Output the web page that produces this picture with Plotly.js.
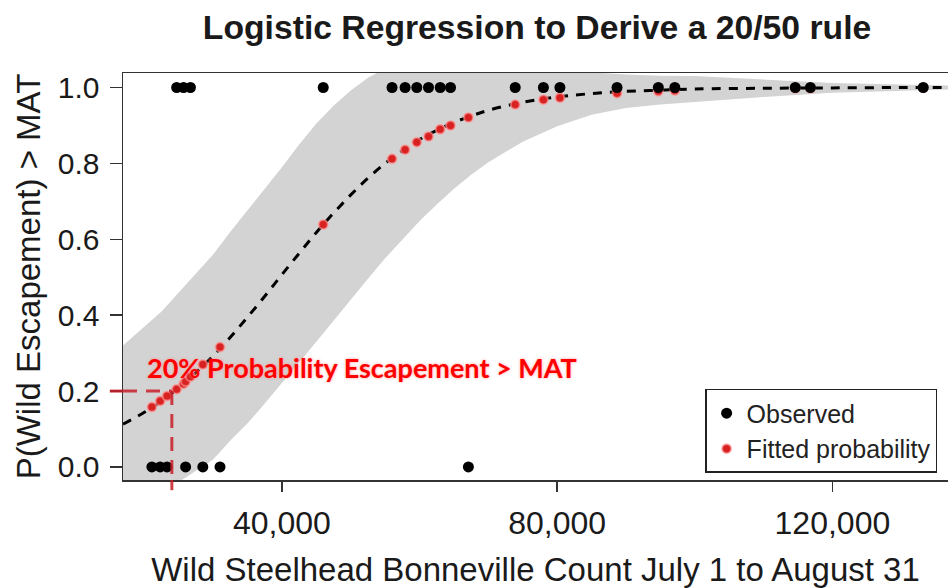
<!DOCTYPE html>
<html>
<head>
<meta charset="utf-8">
<script src="https://cdn.plot.ly/plotly-3.0.1.min.js"></script>
<style>html,body{margin:0;padding:0;background:#fff;}#chart{width:948px;height:588px;}</style>
</head>
<body>
<div id="chart"></div>
<script>
// Observed escapement outcome (0/1) against Bonneville count
const obsX = [21100, 22300, 23300, 24700, 25700, 26000, 26700, 28500, 31000, 46000, 56000, 57900, 59600, 61300, 63000, 64500, 67100, 73900, 78000, 80400, 88700, 94700, 97100, 114600, 116800, 133200];
const obsY = [0, 0, 0, 1, 1, 0, 1, 0, 0, 1, 1, 1, 1, 1, 1, 1, 0, 1, 1, 1, 1, 1, 1, 1, 1, 1];
// Fitted probability at each observed count
const fitP = [0.158, 0.174, 0.187, 0.205, 0.219, 0.225, 0.238, 0.270, 0.316, 0.639, 0.812, 0.836, 0.856, 0.871, 0.890, 0.900, 0.921, 0.955, 0.968, 0.973, 0.985, 0.990, 0.992, 0.998, 0.998, 0.9995];
// Fitted logistic curve and confidence band
const curveX = [16900, 20000, 22500, 25000, 27500, 30000, 32500, 35000, 37500, 40000, 42500, 45000, 47500, 50000, 52500, 55000, 57500, 60000, 62500, 65000, 67500, 70000, 75000, 80000, 85000, 90000, 95000, 100000, 110000, 120000, 130000, 136800];
const curveP = [0.113, 0.144, 0.174, 0.209, 0.249, 0.293, 0.342, 0.395, 0.450, 0.507, 0.563, 0.618, 0.669, 0.717, 0.761, 0.800, 0.833, 0.863, 0.887, 0.908, 0.925, 0.940, 0.961, 0.975, 0.984, 0.990, 0.993, 0.996, 0.998, 0.999, 1.000, 1.000];
const bandUpper = [0.32, 0.37, 0.41, 0.46, 0.51, 0.56, 0.62, 0.675, 0.733, 0.79, 0.85, 0.905, 0.952, 0.992, 1.026, 1.05, 1.068, 1.078, 1.082, 1.083, 1.08, 1.077, 1.065, 1.052, 1.040, 1.034, 1.031, 1.030, 1.021, 1.012, 1.008, 1.005];
const bandLower = [-0.10, -0.08, -0.06, -0.04, -0.01, 0.02, 0.07, 0.115, 0.167, 0.22, 0.276, 0.33, 0.386, 0.442, 0.496, 0.55, 0.598, 0.648, 0.692, 0.733, 0.77, 0.803, 0.857, 0.898, 0.928, 0.946, 0.955, 0.962, 0.975, 0.986, 0.992, 0.995];
// 20/50 rule reference
const ruleX = 24000;
const ruleP = 0.2;
const xTickVals = [40000, 80000, 120000];
const xTickText = ["40,000", "80,000", "120,000"];
const yTickVals = [0, 0.2, 0.4, 0.6, 0.8, 1.0];
const yTickText = ["0.0", "0.2", "0.4", "0.6", "0.8", "1.0"];
const seriesNames = ["Observed", "Fitted probability"];

const FONT = "'Liberation Sans', Arial, Helvetica, sans-serif";
const RED_DASH = {color: 'rgba(200,30,40,0.85)', width: 3, dash: '14px,9px'};

const traces = [
  {x: curveX, y: bandLower, type: 'scatter', mode: 'lines', line: {width: 0, color: 'rgba(0,0,0,0)'}, showlegend: false, hoverinfo: 'skip'},
  {x: curveX, y: bandUpper, type: 'scatter', mode: 'lines', line: {width: 0, color: 'rgba(0,0,0,0)'}, fill: 'tonexty', fillcolor: '#d3d3d3', showlegend: false, hoverinfo: 'skip'},
  {x: curveX, y: curveP, type: 'scatter', mode: 'lines', line: {color: '#000', width: 3, dash: '9px,8px', shape: 'spline'}, showlegend: false},
  {x: obsX, y: fitP, type: 'scatter', mode: 'markers', name: seriesNames[1], marker: {color: 'rgb(216,34,34)', size: 9, line: {color: 'rgba(255,150,150,0.6)', width: 2}}},
  {x: obsX, y: obsY, type: 'scatter', mode: 'markers', name: seriesNames[0], marker: {color: '#000', size: 11}}
];

const layout = {
  width: 948, height: 588,
  margin: {l: 123, r: 0, t: 73, b: 108, pad: 0},
  paper_bgcolor: '#fff', plot_bgcolor: '#fff',
  font: {family: FONT, color: '#1a1a1a', size: 32},
  title: {text: 'Logistic Regression to Derive a 20/50 rule', font: {family: FONT, size: 33.7, weight: 'bold', color: '#1a1a1a'}, x: 0.5665, xref: 'container', xanchor: 'center', y: 0.953, yref: 'container', yanchor: 'middle'},
  xaxis: {range: [16900, 136800], tickvals: xTickVals, ticktext: xTickText, ticks: 'outside', ticklen: 10, tickwidth: 1.5, tickcolor: '#333', showline: true, linecolor: '#333', linewidth: 1.5, mirror: true, showgrid: false, zeroline: false, tickfont: {size: 32}, ticklabelstandoff: 4,
    title: {text: 'Wild Steelhead Bonneville Count July 1 to August 31', font: {size: 33}, standoff: 18}},
  yaxis: {range: [-0.0343, 1.0382], tickvals: yTickVals, ticktext: yTickText, ticks: 'outside', ticklen: 12, tickwidth: 1.5, tickcolor: '#333', showline: true, linecolor: '#333', linewidth: 1.5, mirror: true, showgrid: false, zeroline: false, tickfont: {size: 30}, ticklabelstandoff: 4,
    title: {text: 'P(Wild Escapement) > MAT', font: {size: 33}, standoff: 7}},
  legend: {x: 0.7056, xanchor: 'left', y: 0.2238, yanchor: 'top', bgcolor: '#fff', bordercolor: '#222', borderwidth: 1.5, font: {size: 25, color: '#222'}, traceorder: 'reversed'},
  shapes: [
    {type: 'line', xref: 'x', yref: 'y', x0: 16900, x1: ruleX, y0: ruleP, y1: ruleP, line: RED_DASH},
    {type: 'line', xref: 'paper', yref: 'y', x0: -0.016, x1: 0, y0: ruleP, y1: ruleP, line: {color: RED_DASH.color, width: 3}},
    {type: 'line', xref: 'x', yref: 'y', x0: ruleX, x1: ruleX, y0: ruleP, y1: -0.0343, line: RED_DASH},
    {type: 'line', xref: 'x', yref: 'paper', x0: ruleX, x1: ruleX, y0: 0, y1: -0.025, line: {color: RED_DASH.color, width: 3}}
  ],
  annotations: [
    {text: '20% Probability Escapement > MAT', x: 20100, y: 0.262, xref: 'x', yref: 'y', xanchor: 'left', yanchor: 'middle', showarrow: false,
     font: {family: "Lato, 'Open Sans', sans-serif", size: 27, weight: 'bold', color: '#ff0000', shadow: '0px 0px 3px rgba(255,140,140,0.9)'}}
  ]
};

Plotly.newPlot('chart', traces, layout, {displayModeBar: false, staticPlot: true});
</script>
</body>
</html>
